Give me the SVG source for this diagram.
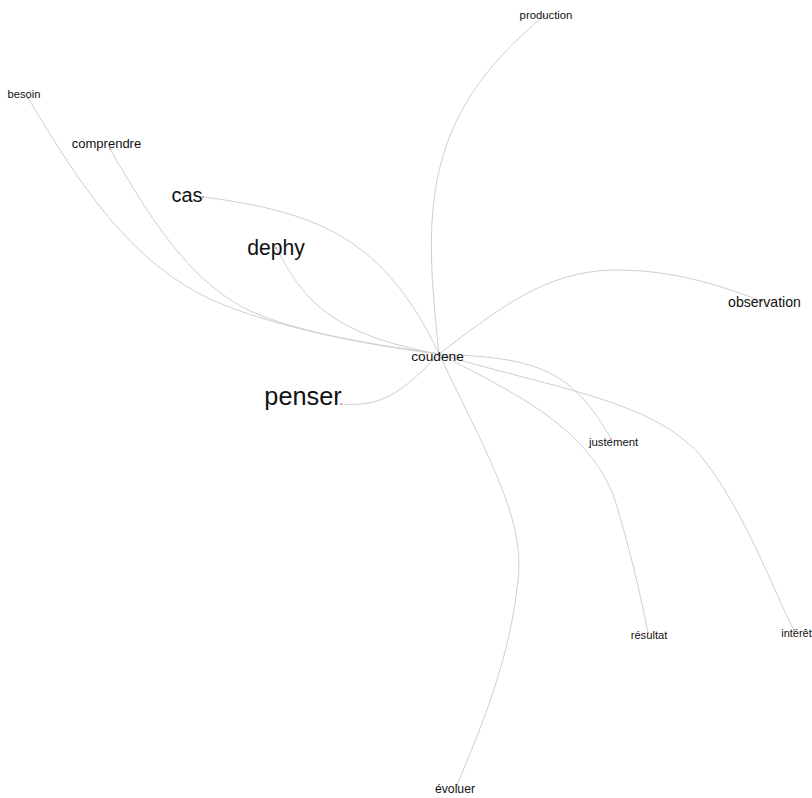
<svg xmlns="http://www.w3.org/2000/svg" width="812" height="798" viewBox="0 0 812 798">
<style>
.e{fill:none;stroke:#cfcfcf;stroke-width:1}
.t{font-family:"Liberation Sans",Arial,sans-serif;fill:#111}
.d{fill:#c8322f}
</style>
<rect width="812" height="798" fill="#fff"/>
<g id="edges">
<path class="e" d="M439,354 C424,215 419,118 544,16"/>
<path class="e" d="M439,354 C500,308 545,271 615,270 C680,270 725,288 762,301"/>
<path class="e" d="M203,197 C320,212 385,240 439,354"/>
<path class="e" d="M276,248 C300,290 320,333 439,354"/>
<path class="e" d="M110,149 C160,236 200,292 262,316 C320,338 400,348 439,354"/>
<path class="e" d="M28,98 C80,185 130,262 212,300 C290,334 400,349 439,354"/>
<path class="e" d="M341,404 C380,407 400,395 439,354"/>
<path class="e" d="M439,354 C530,358 570,365 611,439"/>
<path class="e" d="M439,354 C520,395 590,430 615,500 C630,550 640,592 648,633"/>
<path class="e" d="M439,354 C560,390 650,400 700,455 C745,510 775,595 794,630"/>
<path class="e" d="M439,354 C490,460 525,520 518,580 C510,660 480,730 457,785"/>
</g>
<g id="n-coudene"><circle class="d" cx="439" cy="354" r="0.8"/><text class="t" x="437.5" y="360.5" font-size="13.7" text-anchor="middle">coudene</text></g>
<g id="n-production"><circle class="d" cx="544" cy="16" r="0.8"/><text class="t" x="546" y="19" font-size="11.3" text-anchor="middle">production</text></g>
<g id="n-besoin"><circle class="d" cx="28" cy="98" r="0.8"/><text class="t" x="24" y="97.7" font-size="11.2" text-anchor="middle">besoin</text></g>
<g id="n-comprendre"><circle class="d" cx="110" cy="149" r="0.8"/><text class="t" x="106.5" y="147.7" font-size="13" text-anchor="middle">comprendre</text></g>
<g id="n-cas"><circle class="d" cx="203" cy="197" r="0.8"/><text class="t" x="187" y="201.7" font-size="20" text-anchor="middle">cas</text></g>
<g id="n-dephy"><circle class="d" cx="276" cy="248" r="0.8"/><text class="t" x="276" y="254.5" font-size="21.2" text-anchor="middle">dephy</text></g>
<g id="n-observation"><circle class="d" cx="762" cy="301" r="0.8"/><text class="t" x="764.5" y="307.3" font-size="14.1" text-anchor="middle">observation</text></g>
<g id="n-penser"><circle class="d" cx="341" cy="404" r="0.8"/><text class="t" x="303" y="405" font-size="25.3" text-anchor="middle">penser</text></g>
<g id="n-justement"><circle class="d" cx="611" cy="439" r="0.8"/><text class="t" x="613.6" y="446" font-size="11.4" text-anchor="middle">justement</text></g>
<g id="n-resultat"><circle class="d" cx="648" cy="633" r="0.8"/><text class="t" x="649" y="639" font-size="11.2" text-anchor="middle">résultat</text></g>
<g id="n-interet"><circle class="d" cx="794" cy="630" r="0.8"/><text class="t" x="796.5" y="636.7" font-size="11" text-anchor="middle">intérêt</text></g>
<g id="n-evoluer"><circle class="d" cx="457" cy="785" r="0.8"/><text class="t" x="455" y="793.3" font-size="12.2" text-anchor="middle">évoluer</text></g>
</svg>
